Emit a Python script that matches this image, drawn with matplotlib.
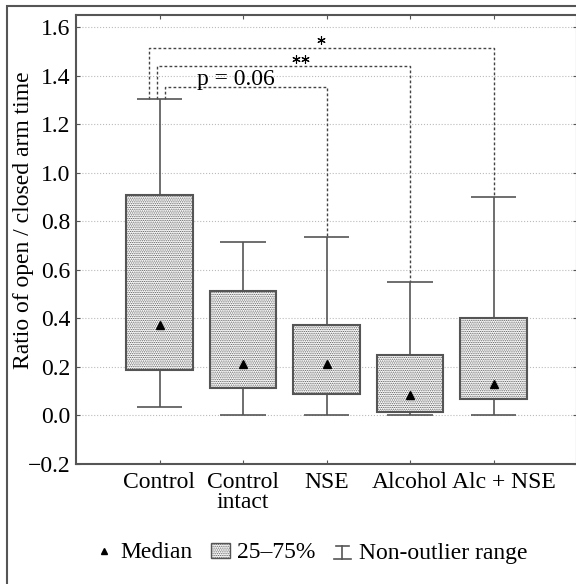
import matplotlib
matplotlib.use("Agg")
import matplotlib.pyplot as plt
from matplotlib.patches import Patch, Rectangle
from matplotlib.lines import Line2D
from matplotlib.legend_handler import HandlerBase
from matplotlib.transforms import ScaledTranslation

# data
groups = ["Control", "Control\nintact", "NSE", "Alcohol", "Alc + NSE"]
medians = [0.372, 0.214, 0.210, 0.084, 0.128]
q1 = [0.187, 0.113, 0.087, 0.014, 0.066]
q3 = [0.908, 0.513, 0.372, 0.250, 0.400]
whisk_lo = [0.036, 0.0, 0.0, 0.0, 0.0]
whisk_hi = [1.303, 0.713, 0.737, 0.550, 0.900]

# significance brackets: (from group, to group, height, label)
comparisons = [(0, 2, 1.354, "p = 0.06"),
               (0, 3, 1.438, "**"),
               (0, 4, 1.516, "*")]
# layout of brackets (left foot offset, label x)
bracket_offsets = [0.06, -0.03, -0.125]
label_x = [1.92, 2.69, 2.94]

plt.rcParams['font.family'] = ['Liberation Serif', 'DejaVu Serif']
plt.rcParams['hatch.linewidth'] = 0.6
plt.rcParams['hatch.color'] = '#777777'

GRAY = '#555555'
FS = 17
pos = list(range(1, len(groups) + 1))


class WhiskerHandler(HandlerBase):
    """Legend symbol for the non-outlier range (an I-beam)."""
    def create_artists(self, legend, orig_handle, xd, yd, w, h, fontsize, trans):
        x0, x1 = -xd + w * 0.05, -xd + w * 0.95
        xm = (x0 + x1) / 2
        y0, y1 = -yd - h * 0.1, -yd + h * 0.75
        arts = [Line2D([x0, x1], [y0, y0], color=GRAY, lw=1.2),
                Line2D([x0 + w * 0.1, x1 - w * 0.1], [y1, y1], color=GRAY, lw=1.2),
                Line2D([xm, xm], [y0, y1], color=GRAY, lw=1.2)]
        for a in arts:
            a.set_transform(trans)
        return arts


fig = plt.figure(figsize=(5.76, 5.84), dpi=100)
ax = fig.add_axes([76 / 576, 120 / 584, 501 / 576, 449 / 584])

# outer frame
fig.patches.append(Rectangle((7 / 576, -0.05), 1.2, 1.05 - 6 / 584,
                             transform=fig.transFigure, fill=False,
                             edgecolor=GRAY, lw=1.5, zorder=0))

ax.yaxis.grid(True, linestyle=':', color='#bbbbbb', lw=0.8)
ax.set_axisbelow(True)

# whiskers
ax.vlines(pos, whisk_lo, q1, color=GRAY, lw=1.2, zorder=2)
ax.vlines(pos, q3, whisk_hi, color=GRAY, lw=1.2, zorder=2)
ax.hlines(whisk_lo, [p - 0.275 for p in pos], [p + 0.275 for p in pos],
          color=GRAY, lw=1.2, zorder=2)
ax.hlines(whisk_hi, [p - 0.275 for p in pos], [p + 0.275 for p in pos],
          color=GRAY, lw=1.2, zorder=2)

# boxes
heights = [b - a for a, b in zip(q1, q3)]
ax.bar(pos, heights, bottom=q1, width=0.8, facecolor='white',
       edgecolor=GRAY, lw=1.5, hatch='.........', zorder=3)

# medians
ax.plot(pos, medians, ls='none', marker='^', color='black', ms=6, zorder=4)

# brackets
for (a, b, h, lab), off, lx in zip(comparisons, bracket_offsets, label_x):
    xa = pos[a] + off
    xb = pos[b]
    ax.plot([xa, xa, xb, xb], [whisk_hi[a], h, h, whisk_hi[b]],
            color='#444444', lw=1.0, ls=(0, (2, 1.6)), zorder=1)
    if lab.startswith('p'):
        ax.text(lx, h + 0.008, lab, ha='center', va='baseline', fontsize=FS)
    else:
        n = len(lab)
        xs = [lx + (k - (n - 1) / 2) * 0.11 for k in range(n)]
        ax.plot(xs, [h + 0.032] * n, ls='none', marker=(6, 2, 0),
                color='black', ms=6, mew=0.8)

ax.set_xlim(0, 6)
ax.set_ylim(-0.2, 1.65)
ax.set_xticks(pos)
ax.set_xticklabels(groups, fontsize=FS, linespacing=0.9)
yt = [-0.2 + 0.2 * i for i in range(10)]
ax.set_yticks(yt)
ax.set_yticklabels([f"{v:.1f}".replace('-', '\u2212') for v in yt], fontsize=FS)
ax.tick_params(direction='in', length=3, color=GRAY, top=True, right=True,
               pad=4)
ax.tick_params(axis='x', pad=6)
for s in ax.spines.values():
    s.set_color(GRAY)
    s.set_linewidth(1.5)
ax.set_ylabel("Ratio of open / closed arm time", fontsize=FS)
ax.yaxis.set_label_coords(-0.084, 0.543)

# last category label sits a bit to the right in the original
lab = ax.get_xticklabels()[-1]
lab.set_transform(lab.get_transform() + ScaledTranslation(10 / 100, 0, fig.dpi_scale_trans))

handles = [Line2D([], [], ls='none', marker='^', color='black', ms=4),
           Patch(facecolor='white', edgecolor=GRAY, hatch='.........', lw=1),
           Line2D([], [], color=GRAY)]
fig.legend(handles, ["Median", "25\u201375%", "Non-outlier range"],
           handler_map={handles[2]: WhiskerHandler()},
           loc='center', bbox_to_anchor=(311 / 576, 31 / 584), ncol=3,
           frameon=False, fontsize=FS, handlelength=0.8, handletextpad=0.3,
           handleheight=0.6, columnspacing=0.75)

fig.savefig("out.png", dpi=100)
